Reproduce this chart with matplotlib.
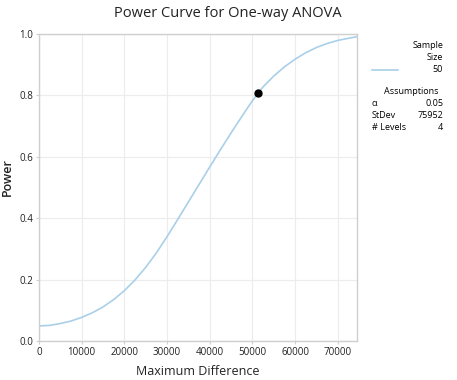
import matplotlib
matplotlib.use("Agg")
import matplotlib.pyplot as plt

plt.rcParams["font.family"] = ["Open Sans", "DejaVu Sans"]

# Power curve readings (maximum difference vs power)
max_diff = [0, 2500, 5000, 7500, 10000, 12500, 15000, 17500, 20000, 22500,
            25000, 27500, 30000, 32500, 35000, 37500, 40000, 42500, 45000,
            47500, 50000, 52500, 55000, 57500, 60000, 62500, 65000, 67500,
            70000, 72500, 74500]
power = [0.049, 0.051, 0.057, 0.065, 0.077, 0.092, 0.111, 0.135, 0.164, 0.199,
         0.240, 0.287, 0.340, 0.396, 0.453, 0.510, 0.567, 0.623, 0.678,
         0.731, 0.783, 0.828, 0.863, 0.893, 0.918, 0.939, 0.956, 0.969,
         0.979, 0.986, 0.991]

# Highlighted design point
point_x = [51240]
point_y = [0.809]

xticks = [0, 10000, 20000, 30000, 40000, 50000, 60000, 70000]
yticks = [0.0, 0.2, 0.4, 0.6, 0.8, 1.0]

sample_size = "50"
assumptions = [("α", "0.05"), ("StDev", "75952"), ("# Levels", "4")]

fig = plt.figure(figsize=(4.57, 3.8), dpi=100)
ax = fig.add_axes([0.0853, 0.1026, 0.696, 0.808])

grid_col = "#ececec"
spine_col = "#cfcfcf"
curve_col = "#a9d0e8"
text_col = "#222222"

ax.plot(max_diff, power, color=curve_col, lw=1.2)
ax.plot(point_x, point_y, "o", color="black", ms=5)

ax.set_xlim(0, 74500)
ax.set_ylim(0, 1.0)
ax.set_xticks(xticks)
ax.set_yticks(yticks)
ax.set_xticklabels([str(t) for t in xticks])
ax.set_yticklabels([f"{t:.1f}" for t in yticks])
ax.tick_params(labelsize=7, length=2, color=spine_col, pad=2,
               labelcolor=text_col)
ax.grid(True, color=grid_col, lw=0.8)
ax.set_axisbelow(True)
for s in ax.spines.values():
    s.set_color(spine_col)
    s.set_linewidth(1.0)

ax.set_xlabel("Maximum Difference", fontsize=9, labelpad=5, color=text_col)
ax.set_ylabel("Power", fontsize=9, color=text_col, fontweight="semibold")
ax.yaxis.set_label_coords(-0.078, 0.534)
fig.text(0.499, 0.965, "Power Curve for One-way ANOVA", ha="center",
         va="center", fontsize=10.5, color=text_col)

# legend / assumptions panel on the right
fx = lambda px: px / 457
fy = lambda py: 1 - py / 380
fig.text(fx(443), fy(45), "Sample", ha="right", va="center", fontsize=6.5)
fig.text(fx(443), fy(57), "Size", ha="right", va="center", fontsize=6.5)
fig.add_artist(plt.Line2D([fx(372), fx(398)], [fy(70), fy(70)],
                          color=curve_col, lw=1.2))
fig.text(fx(443), fy(70), sample_size, ha="right", va="center", fontsize=6.5)
fig.text(fx(411), fy(92), "Assumptions", ha="center", va="center", fontsize=6.5)
for i, (name, val) in enumerate(assumptions):
    y = fy(104 + i * 11.5)
    fig.text(fx(372), y, name, ha="left", va="center", fontsize=6.5)
    fig.text(fx(443), y, val, ha="right", va="center", fontsize=6.5)

fig.savefig("out.png", dpi=100)
